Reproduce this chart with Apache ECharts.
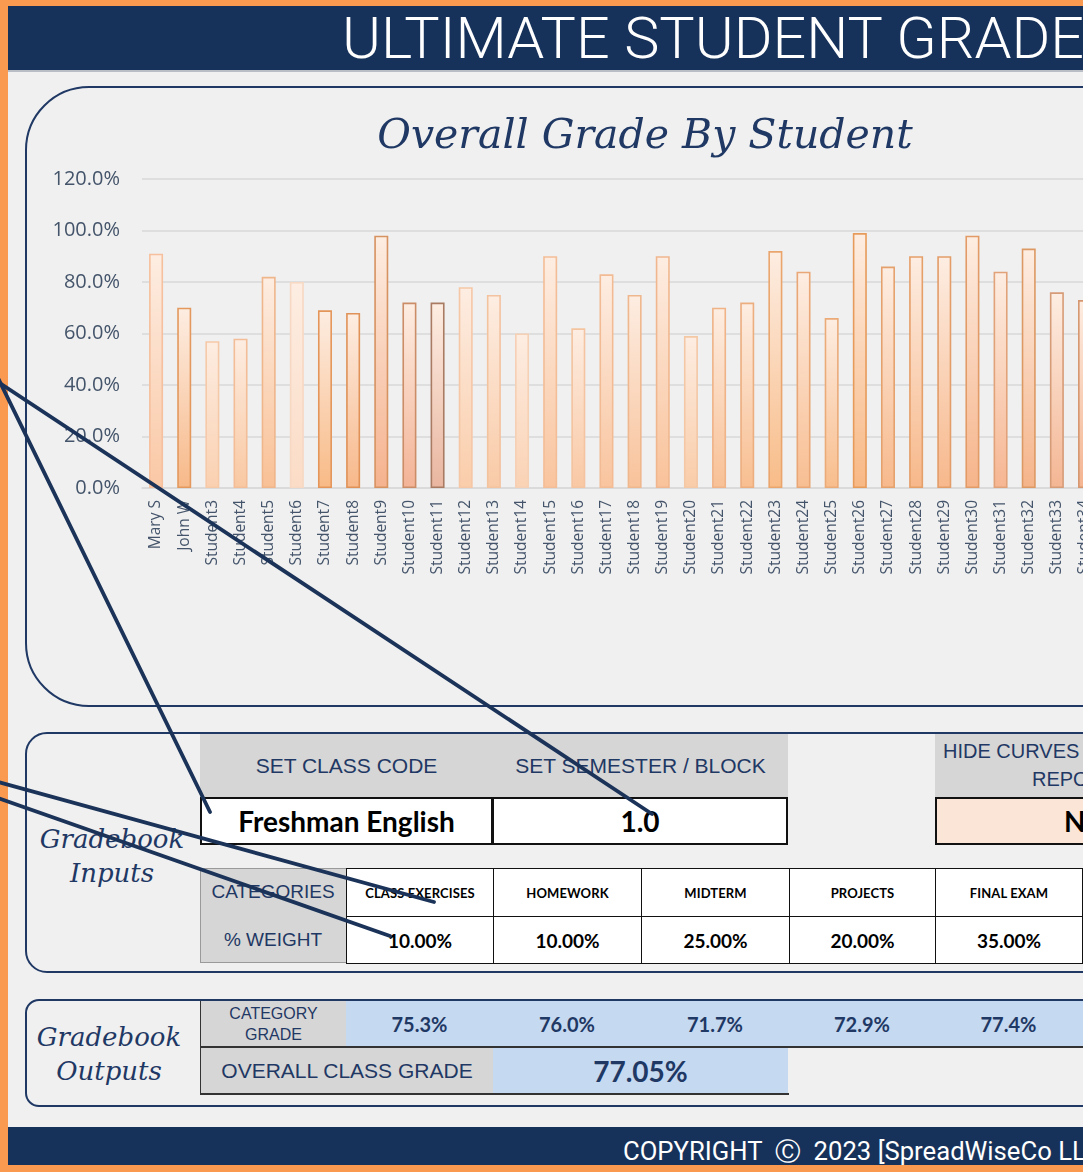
<!DOCTYPE html>
<html><head><meta charset="utf-8">
<script src="https://cdn.jsdelivr.net/npm/echarts@6/dist/echarts.min.js"></script>
<style>
html,body{margin:0;padding:0;width:1083px;height:1172px;overflow:hidden;background:#F79646;}
#page{position:relative;width:1083px;height:1172px;overflow:hidden;background:#FA9A50;}
.abs{position:absolute;box-sizing:border-box;}
.hdr{font-family:"Liberation Sans",Arial,sans-serif;color:#1F3864;font-size:21px;display:flex;align-items:center;justify-content:center;text-align:center;}
.val{font-family:Lato,"Open Sans",sans-serif;font-weight:700;color:#000;display:flex;align-items:center;justify-content:center;}
.script{font-family:"DejaVu Serif",serif;font-style:italic;font-weight:700;color:#1F3864;font-size:25px;text-align:center;line-height:34px;}
.narrow{white-space:nowrap;color:#fff;font-family:Roboto,"Liberation Sans",sans-serif;font-weight:300;transform-origin:0 50%;}
</style>
</head>
<body>
<div id="page">
  <div class="abs" style="left:8px;top:6px;width:1300px;height:1159px;background:#F0F0F0;"></div>
  <div class="abs" style="left:8px;top:6px;width:1300px;height:64px;background:#17325A;"></div>
  <div class="abs" style="left:8px;top:70px;width:1300px;height:2px;background:#B9BEC6;"></div>
  <div class="abs" style="left:342px;top:6px;height:64px;line-height:66px;"><span id="ttl" class="narrow" style="display:inline-block;font-size:57px;">ULTIMATE STUDENT GRADE<span>BOOK</span></span></div>
  <div class="abs" style="left:8px;top:1127px;width:1300px;height:38px;background:#17325A;"></div>
  <div class="abs" style="left:623px;top:1133px;height:38px;line-height:38px;"><span id="cpy" class="narrow" style="display:inline-block;font-size:25px;font-weight:400;">COPYRIGHT&nbsp;&nbsp;Ⓒ&nbsp;&nbsp;2023 [SpreadWiseCo LL<span>C]</span></span></div>

  <div class="abs" style="left:25px;top:86px;width:1300px;height:621px;border:2px solid #1F3864;border-radius:64px;"></div>
  <div id="chart" class="abs" style="left:0;top:0;width:1290px;height:720px;z-index:2;"></div>

  <div class="abs" style="left:25px;top:732px;width:1300px;height:241px;border:2px solid #1F3864;border-radius:22px;"></div>
  <div class="abs" style="left:25px;top:999px;width:1300px;height:108px;border:2px solid #1F3864;border-radius:14px;"></div>
  <div class="abs script" style="left:27px;top:822px;width:170px;font-weight:400;font-size:26px;">Gradebook<br>Inputs</div>
  <div class="abs script" style="left:24px;top:1020px;width:170px;font-weight:400;font-size:26px;">Gradebook<br>Outputs</div>
  <div id="tables"></div>

  <svg class="abs" style="left:0;top:0;z-index:20;pointer-events:none;" width="1083" height="1172">
    <g stroke="#1B3358" stroke-width="3.8" stroke-linecap="round">
      <line x1="-2" y1="382" x2="652" y2="814"/>
      <line x1="-2" y1="378" x2="210" y2="812"/>
      <line x1="-2" y1="782" x2="434" y2="902"/>
      <line x1="-2" y1="798" x2="390" y2="936"/>
    </g>
  </svg>
</div>
<script>
// ---------------- data ----------------
const students = ['Mary S','John W','Student3','Student4','Student5','Student6','Student7','Student8','Student9','Student10',
  'Student11','Student12','Student13','Student14','Student15','Student16','Student17','Student18','Student19','Student20',
  'Student21','Student22','Student23','Student24','Student25','Student26','Student27','Student28','Student29','Student30',
  'Student31','Student32','Student33','Student34'];
const grades = [91,70,57,58,82,80,69,68,98,72,
  72,78,75,60,90,62,83,75,90,59,
  70,72,92,84,66,99,86,90,90,98,
  84,93,76,73];
const yMin = 0, yMax = 120, yStep = 20;
const classHeaders = ['SET CLASS CODE','SET SEMESTER / BLOCK'];
const classValues = ['Freshman English','1.0'];
const hideCurvesLabel = ['HIDE CURVES ON','REPORTS?'];
const hideCurvesValue = 'NO';
const categories = ['CLASS EXERCISES','HOMEWORK','MIDTERM','PROJECTS','FINAL EXAM'];
const weights = [10.00,10.00,25.00,20.00,35.00];
const categoryGrades = [75.3,76.0,71.7,72.9,77.4];
const overallGrade = 77.05;

// ---------------- styles (per-bar tints) ----------------
const barEdge = ['#F6BF9D','#E3995D','#F5C9A8','#F2BD97','#EFB68C','#F7D8C3','#E4965A','#DF9157','#D69260','#CB8D67',
  '#A87B62','#F5C7A7','#F3C29F','#F6D0B4','#F3BD97','#F4C39F','#F2BB94','#EFB78D','#F0B78F','#F4C7A5',
  '#EFB387','#ECAD7F','#EAA56D','#E9A777','#EBAB79','#E79B5B','#E5A16D','#E59F69','#E29D69','#E29B67',
  '#E1A179','#DD9963','#D69B77','#D6976F'];
const barBase = ['#FAC8A5','#F7B989','#FAD0B0','#F9C8A2','#F9C095','#FBDCC6','#F8BA86','#F7B88A','#F5B28E','#F3B396',
  '#E9B6A0','#FACDAA','#F9CAA6','#FAD2B4','#F9C49E','#F9C8A4','#F9C49E','#F8C29A','#F9C29A','#F9CCA8',
  '#F8C095','#F8BE90','#F8BC88','#F8BE92','#F8BD8C','#F8B884','#F7B98C','#F7B88A','#F7B88C','#F6B48A',
  '#F6B692','#F5B48A','#F4B694','#F4B490'];

// fit narrow banner texts to the reference widths
function fitText(id, target) {
  const el = document.getElementById(id);
  const tail = el.querySelector('span');
  const w = el.getBoundingClientRect().width - tail.getBoundingClientRect().width;
  el.style.transform = `scaleX(${target / w})`;
}
fitText('ttl', 742);
fitText('cpy', 462);

// ---------------- chart ----------------
const chart = echarts.init(document.getElementById('chart'), null, {renderer:'canvas'});
const band = 28.15;
chart.setOption({
  backgroundColor: 'transparent',
  animation: false,
  title: {
    text: 'Overall Grade By Student', left: 'center', top: 112,
    textStyle: {fontFamily: 'DejaVu Serif', fontStyle: 'italic', fontWeight: 'normal', fontSize: 41, color: '#1F3864'}
  },
  grid: {left: 142, top: 179, height: 309, width: band * students.length, containLabel: false},
  xAxis: {
    type: 'category', data: students,
    axisTick: {show: false},
    axisLine: {lineStyle: {color: '#D9D9D9', width: 1.5}},
    axisLabel: {rotate: 90, interval: 0, margin: 12, fontFamily: 'Open Sans', fontSize: 15.5, color: '#44546A'}
  },
  yAxis: {
    type: 'value', min: yMin, max: yMax, interval: yStep,
    axisLine: {show: false}, axisTick: {show: false},
    splitLine: {lineStyle: {color: '#D9D9D9', width: 1.5}},
    axisLabel: {margin: 22, fontFamily: 'Open Sans', fontSize: 20, color: '#44546A',
      formatter: v => v.toFixed(1) + '%'}
  },
  series: [{
    type: 'bar', barWidth: 14,
    data: grades.map((g, i) => ({
      value: g,
      itemStyle: {
        borderColor: barEdge[i], borderWidth: 1.6,
        color: new echarts.graphic.LinearGradient(0, 0, 0, 1, [
          {offset: 0, color: '#FDEDE2'}, {offset: 1, color: barBase[i]}
        ])
      }
    }))
  }]
});

// ---------------- tables ----------------
const T = document.getElementById('tables');
function cell(x, y, w, h, html, cls, style) {
  const d = document.createElement('div');
  d.className = 'abs ' + (cls || '');
  d.style.cssText = `left:${x}px;top:${y}px;width:${w}px;height:${h}px;` + (style || '');
  d.innerHTML = html;
  T.appendChild(d);
  return d;
}
const GRAY = '#D6D6D6', BLUE = '#C5D9F1', PEACH = '#FBE5D6';
// class code block
const ccX = [200, 493, 788];
classHeaders.forEach((t, i) => cell(ccX[i], 734, ccX[i+1]-ccX[i], 63, t, 'hdr', `background:${GRAY};`));
classValues.forEach((t, i) => cell(ccX[i], 797, ccX[i+1]-ccX[i], 48, t, 'val',
  `background:#fff;border:2px solid #111;${i>0?'border-left:1px solid #111;':''}font-size:28px;`));
cell(935, 734, 302, 63, '', '', `background:${GRAY};`);
cell(943, 738, 300, 26, hideCurvesLabel[0], 'hdr', 'justify-content:flex-start;font-size:20px;');
cell(1032, 766, 200, 26, hideCurvesLabel[1], 'hdr', 'justify-content:flex-start;font-size:20px;');
cell(935, 797, 302, 48, hideCurvesValue, 'val', `background:${PEACH};border:2px solid #111;font-size:28px;`);
// categories block
const colX = [346, 493, 641, 789, 935, 1082];
cell(200, 868, 146, 95, '', '', `background:${GRAY};border:1px solid #9a9a9a;border-right:none;`);
cell(200, 868, 146, 48, 'CATEGORIES', 'hdr', 'font-size:19px;');
cell(200, 916, 146, 47, '% WEIGHT', 'hdr', 'font-size:19px;');
categories.forEach((c, i) => {
  cell(colX[i], 868, colX[i+1]-colX[i]+1, 49, c, 'val', 'background:#fff;border:1.5px solid #111;font-size:13px;letter-spacing:0.1px;');
  cell(colX[i], 916, colX[i+1]-colX[i]+1, 48, weights[i].toFixed(2) + '%', 'val', 'background:#fff;border:1.5px solid #111;font-size:19px;');
});
cell(1082, 868, 200, 96, '', '', 'background:#fff;border:1.5px solid #111;');
// outputs block
cell(200, 1001, 146, 46, 'CATEGORY<br>GRADE', 'hdr', `background:${GRAY};font-size:16px;line-height:21px;border-left:1px solid #333;`);
cell(346, 1001, 1000, 46, '', '', `background:${BLUE};`);
categoryGrades.forEach((g, i) => cell(colX[i], 1001, colX[i+1]-colX[i], 46, g.toFixed(1) + '%', 'val',
  'color:#1F3864;font-size:20px;'));
cell(200, 1046, 1000, 2, '', '', 'background:#333;');
cell(200, 1048, 293, 45, 'OVERALL CLASS GRADE', 'hdr', `background:${GRAY};font-size:21px;border-left:1px solid #333;`);
cell(493, 1048, 295, 45, overallGrade.toFixed(2) + '%', 'val', `background:${BLUE};color:#1F3864;font-size:28px;`);
cell(200, 1093, 589, 2, '', '', 'background:#333;');
</script>
</body></html>
